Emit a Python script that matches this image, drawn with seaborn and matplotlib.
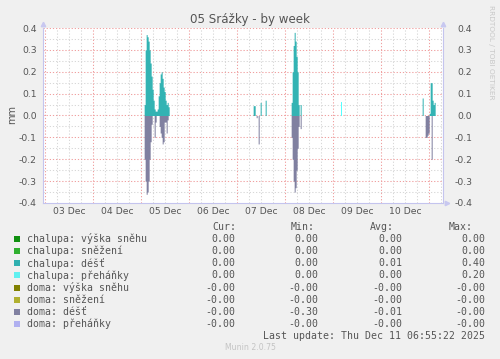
import numpy as np
import pandas as pd
import matplotlib
matplotlib.use("Agg")
import matplotlib.pyplot as plt
import matplotlib.dates as mdates
from matplotlib.patches import Rectangle
import seaborn as sns

# rrd steps are 30 min; each burst = start time + values of following steps
chalupa_dest_start = ["2025-12-05 01:30", "2025-12-07 08:00", "2025-12-07 11:30",
                      "2025-12-07 14:00", "2025-12-08 03:00", "2025-12-08 07:30",
                      "2025-12-10 20:30", "2025-12-11 00:00"]
chalupa_dest_vals = [
    [0.05, 0.30, 0.37, 0.36, 0.34, 0.30, 0.24, 0.18, 0.12, 0.07, 0.03, 0.02,
     0.02, 0.03, 0.09, 0.15, 0.19, 0.20, 0.17, 0.13, 0.11, 0.07, 0.05, 0.06, 0.04],
    [0.045, 0.045],
    [0.06],
    [0.07],
    [0.06, 0.20, 0.32, 0.38, 0.34, 0.27, 0.20, 0.05],
    [0.05],
    [0.08],
    [0.01, 0.15, 0.15, 0.07, 0.05, 0.06],
]
chalupa_prehanky_start = ["2025-12-09 04:00"]
chalupa_prehanky_vals = [[0.06]]

doma_dest_start = ["2025-12-05 01:30", "2025-12-05 06:30", "2025-12-05 09:00",
                   "2025-12-07 09:30", "2025-12-07 10:30", "2025-12-08 03:00",
                   "2025-12-08 07:30", "2025-12-10 22:00", "2025-12-11 01:00"]
doma_dest_vals = [
    [-0.20, -0.30, -0.36, -0.35, -0.30, -0.20, -0.12, -0.04],
    [-0.10, -0.03],
    [-0.05, -0.08, -0.10, -0.13, -0.12, -0.03, -0.03, -0.08, -0.02],
    [-0.01],
    [-0.13],
    [-0.10, -0.20, -0.30, -0.35, -0.33, -0.25, -0.15, -0.05],
    [-0.06],
    [-0.10, -0.10, -0.09, -0.08],
    [-0.20],
]

day_labels = ["03 Dec", "04 Dec", "05 Dec", "06 Dec", "07 Dec", "08 Dec", "09 Dec", "10 Dec"]
ytick_labels = ["-0.4", "-0.3", "-0.2", "-0.1", "0.0", "0.1", "0.2", "0.3", "0.4"]

legend_names = ["chalupa: výška sněhu", "chalupa: sněžení", "chalupa: déšť",
                "chalupa: přeháňky", "doma: výška sněhu", "doma: sněžení",
                "doma: déšť", "doma: přeháňky"]
legend_colors = ["#109010", "#30b030", "#30b0b0", "#60f0f0",
                 "#808000", "#b0b030", "#8080a0", "#b0b0f0"]
cur_vals = ["0.00", "0.00", "0.00", "0.00", "-0.00", "-0.00", "-0.00", "-0.00"]
min_vals = ["0.00", "0.00", "0.00", "0.00", "-0.00", "-0.00", "-0.30", "-0.00"]
avg_vals = ["0.00", "0.00", "0.01", "0.00", "-0.00", "-0.00", "-0.01", "-0.00"]
max_vals = ["0.00", "0.00", "0.40", "0.20", "-0.00", "-0.00", "-0.00", "-0.00"]

W, H = 500, 359
TXT = "#555555"
MONO = "DejaVu Sans Mono"


def px(x, y):
    return x / W, 1 - y / H


def to_series(grid, starts, vals):
    s = pd.Series(0.0, index=grid)
    for st, v in zip(starts, vals):
        idx = pd.date_range(st, periods=len(v), freq="30min")
        s.loc[idx] = v
    return s


def main():
    sns.set_theme(style="white")
    plt.rcParams["font.family"] = ["DejaVu Sans"]

    grid = pd.date_range("2025-12-02 22:00", "2025-12-11 08:00", freq="30min")
    dest_ch = to_series(grid, chalupa_dest_start, chalupa_dest_vals)
    preh_ch = to_series(grid, chalupa_prehanky_start, chalupa_prehanky_vals)
    dest_do = to_series(grid, doma_dest_start, doma_dest_vals)

    fig = plt.figure(figsize=(W / 100, H / 100), dpi=100, facecolor="#f0f0f0")
    ax = fig.add_axes([43 / W, 1 - 203 / H, 400 / W, 175 / H])
    ax.set_facecolor("white")

    t0 = pd.Timestamp("2025-12-02 22:55")
    t1 = pd.Timestamp("2025-12-11 06:55")
    ax.set_xlim(mdates.date2num(t0), mdates.date2num(t1))
    ax.set_ylim(-0.4, 0.4)

    # grid: gray every 6 h / 0.05, red every day / 0.1
    for t in pd.date_range("2025-12-03", "2025-12-11 06:00", freq="6h"):
        major = t.hour == 0
        ax.axvline(t, color="#f0a0a0" if major else "#d8d8d8", lw=0.75,
                   ls=(0, (1.2, 1.8)), zorder=1 if major else 0.5)
    for i, v in enumerate(np.linspace(-0.35, 0.4, 16)):
        major = i % 2 == 1
        ax.axhline(v, color="#f0a0a0" if major else "#d8d8d8", lw=0.75,
                   ls=(0, (1.2, 1.8)), zorder=1 if major else 0.5)

    x = mdates.date2num(grid)
    area = dict(step="post", linewidth=0, antialiased=False, zorder=2)
    ax.fill_between(x, 0, dest_ch.values, color="#33b3b3", **area)
    # stack přeháňky on déšť only where it is non-zero
    on = preh_ch.values > 0
    on = on | np.roll(on, 1)
    ax.fill_between(x, dest_ch.values, dest_ch.values + preh_ch.values,
                    where=on, color="#55ffff", **area)
    ax.fill_between(x, 0, dest_do.values, color="#8080a0", **area)

    noons = pd.date_range("2025-12-03 12:00", periods=len(day_labels), freq="D")
    ax.set_xticks(mdates.date2num(noons))
    ax.set_xticklabels(day_labels)
    yt = [float(v) for v in ytick_labels]
    ax.set_yticks(yt)
    ax.set_yticklabels(ytick_labels)
    ax.tick_params(axis="x", length=0, pad=3, labelsize=6.7, labelcolor=TXT)
    ax.tick_params(axis="y", length=0, pad=4.3, labelsize=6.7, labelcolor=TXT)
    ax.grid(False)

    for side in ["left", "right", "bottom"]:
        ax.spines[side].set_color("#c4c4ee")
        ax.spines[side].set_linewidth(0.8)
    ax.spines["top"].set_visible(False)

    ax2 = ax.twinx()
    ax2.set_ylim(-0.4, 0.4)
    ax2.set_yticks(yt)
    ax2.set_yticklabels(ytick_labels)
    ax2.tick_params(axis="y", length=0, pad=21, labelsize=6.7, labelcolor=TXT)
    for lab in ax2.get_yticklabels():
        lab.set_horizontalalignment("right")
    for side in ["left", "right", "bottom", "top"]:
        ax2.spines[side].set_visible(False)
    ax2.grid(False)

    arrow = dict(color="#c8c8f0", markersize=3.2, clip_on=False,
                 transform=ax.transAxes, zorder=5)
    ax.plot([0], [1.022], marker="^", **arrow)
    ax.plot([1], [1.022], marker="^", **arrow)
    ax.plot([1.01], [0], marker=">", **arrow)

    fig.text(*px(250, 19), "05 Srážky - by week", ha="center", va="center",
             fontsize=8.6, color=TXT)
    fig.text(*px(12, 114), "mm", ha="center", va="center", rotation=90,
             fontsize=7, color=TXT)
    fig.text(*px(491, 52), "RRDTOOL / TOBI OETIKER", ha="center", va="center",
             rotation=-90, fontsize=5.3, color="#c8c8c8")

    # legend table
    fs = 7.1
    hy = 227
    for xx, h in zip([236, 315, 394, 473], ["Cur:", "Min:", "Avg:", "Max:"]):
        fig.text(*px(xx, hy), h, ha="right", va="center", family=MONO,
                 fontsize=fs, color=TXT)
    for i, name in enumerate(legend_names):
        y = 239 + 12.13 * i
        fx, fy = px(14, y + 3)
        fig.patches.append(Rectangle((fx, fy), 6 / W, 6 / H, transform=fig.transFigure,
                                     facecolor=legend_colors[i], edgecolor="none"))
        fig.text(*px(27, y), name, ha="left", va="center", family=MONO,
                 fontsize=fs, color=TXT)
        for xx, col in zip([235, 318, 402, 485], [cur_vals, min_vals, avg_vals, max_vals]):
            fig.text(*px(xx, y), col[i], ha="right", va="center", family=MONO,
                     fontsize=fs, color=TXT)
    fig.text(*px(485, 336), "Last update: Thu Dec 11 06:55:22 2025", ha="right",
             va="center", family=MONO, fontsize=fs, color=TXT)
    fig.text(*px(250, 348), "Munin 2.0.75", ha="center", va="center",
             fontsize=5.6, color="#c4c4c4")

    fig.savefig("out.png", dpi=100, facecolor=fig.get_facecolor())


if __name__ == "__main__":
    main()
